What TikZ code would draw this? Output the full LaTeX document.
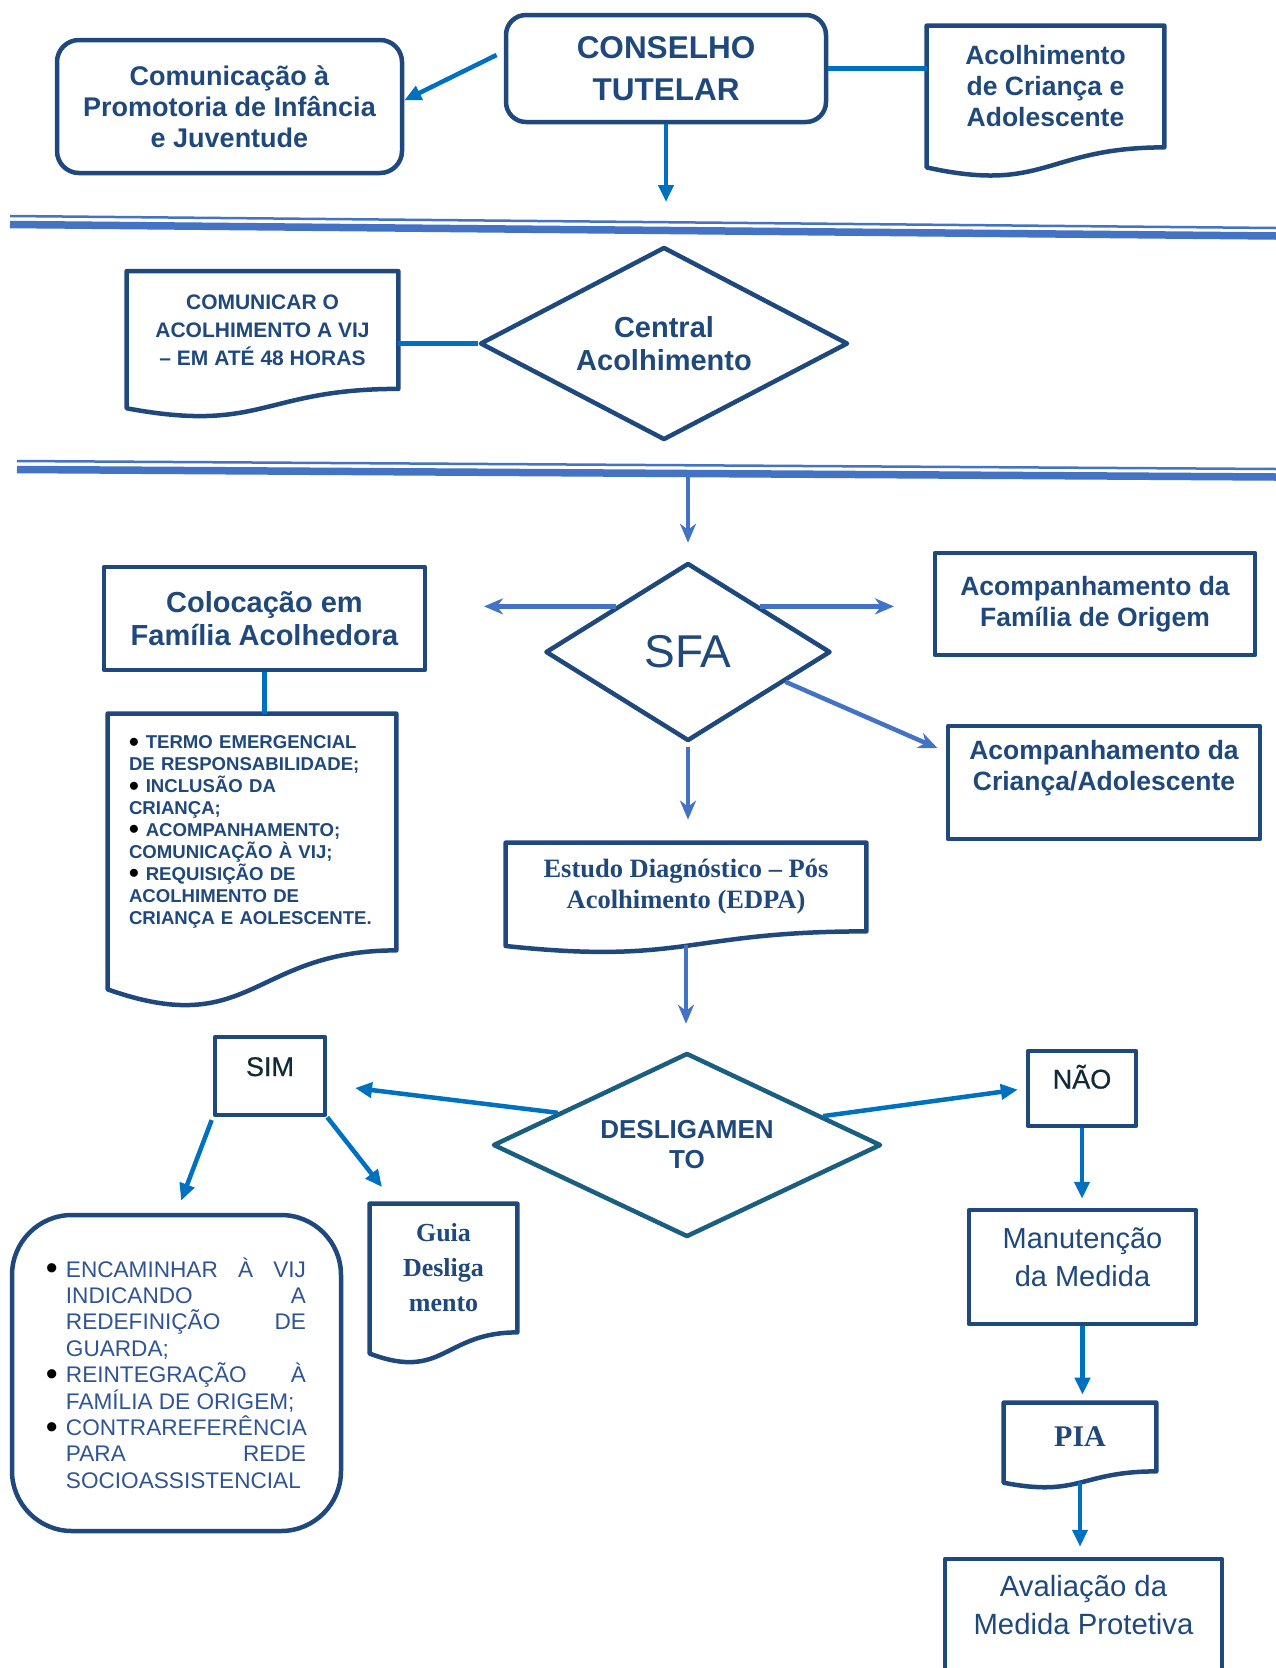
\documentclass[tikz,border=0pt]{standalone}
\usepackage{fontspec}
\setmainfont{Liberation Sans}
\newfontfamily\timesfont{Liberation Serif}
\newfontfamily\midfont[FakeBold=0.6]{Liberation Sans}
\usetikzlibrary{shapes.geometric,arrows.meta,calc}

\definecolor{navy}{RGB}{31,73,125}
\definecolor{arrowblue}{RGB}{0,112,192}
\definecolor{lightblue}{RGB}{68,114,196}
\definecolor{tealline}{RGB}{26,94,128}
\definecolor{listblue}{RGB}{47,84,150}
\definecolor{darkink}{RGB}{16,42,58}

\newcommand{\setsize}[2]{\fontsize{#1}{#2}\selectfont}
\newcommand{\itemdot}{\textcolor{black}{\raisebox{-0.12em}{\scalebox{1.5}{\textbullet}}}}

\tikzset{every picture/.style={line width=0.75pt}}
\tikzset{
  boxline/.style={draw=navy, line width=4.5pt, line join=round},
  plainbox/.style={boxline, rectangle, inner sep=0pt, text=navy, align=center},
  roundbox/.style={plainbox, rounded corners=20pt},
  docbox/.style={rectangle, inner sep=0pt, text=navy, align=center},
  decision/.style={boxline, diamond, inner sep=0pt, text=navy, align=center},
  link/.style={draw=arrowblue, line width=4.5pt},
  blueflow/.style={link, -{Triangle[length=17pt,width=15pt]}},
  sfaflow/.style={draw=lightblue, line width=4.5pt, -{Stealth[length=19pt,width=16pt,inset=6pt]}},
  septhin/.style={draw=lightblue, line width=2.5pt},
  septhick/.style={draw=lightblue, line width=7.5pt}
}

% document outline (wavy bottom) round a docbox node
\newcommand{\docoutline}[1]{%
  \draw[boxline] (#1.north west) -- (#1.north east) -- (#1.south east)
    .. controls (#1.south) and ($(#1.south)!-0.381!(#1.north)$) .. ($(#1.south west)!-0.1646!(#1.north west)$) -- cycle;}

\begin{document}
\begin{tikzpicture}[x=1pt,y=1pt,yscale=-1,xscale=1]
\useasboundingbox (0,0) rectangle (1276,1668);
\path[fill=white] (0,0) rectangle (1276,1668);

%Rounded Rect: Conselho Tutelar
\node[roundbox, minimum width=320pt, minimum height=107pt, font=\bfseries\setsize{31.5}{42}] (conselho) at (666,68.5) {CONSELHO\\TUTELAR};
%Rounded Rect: Comunicacao
\node[roundbox, rounded corners=22pt, minimum width=345pt, minimum height=133pt, font=\bfseries\setsize{27}{31}] (comunicacao) at (229.5,106.5) {Comunicação à\\Promotoria de Infância\\e Juventude};
%Shape: Document
\node[docbox, minimum width=237pt, minimum height=121pt, font=\bfseries\setsize{26.5}{31}] (acolhimento) at (1045.5,86.5) {Acolhimento\\de Criança e\\Adolescente};
\docoutline{acolhimento}

%Straight Lines: separator 1
\draw[septhin] (10,216) -- (1276,228);
\draw[septhick] (10,224.5) -- (1276,236);

%Shape: Diamond
\node[decision, minimum width=368pt, minimum height=193pt, aspect=1.9, font=\bfseries\setsize{29}{33}] (central) at (664,343.5) {Central\\Acolhimento};
%Shape: Document
\node[docbox, minimum width=271pt, minimum height=117pt, font=\bfseries\setsize{21}{28}] (comunicar) at (262.5,330) {COMUNICAR O\\ACOLHIMENTO A VIJ\\– EM ATÉ 48 HORAS};
\docoutline{comunicar}

%Straight Lines: separator 2
\draw[septhin] (17,461) -- (1276,469);
\draw[septhick] (17,469.5) -- (1276,477);

%Shape: Diamond
\node[decision, minimum width=285pt, minimum height=178pt, aspect=1.6, font=\setsize{46}{52}] (sfa) at (688,652) {SFA};
%Shape: Rectangle
\node[plainbox, minimum width=321pt, minimum height=103pt, font=\bfseries\setsize{29}{33}] (colocacao) at (264.5,618.5) {Colocação em\\Família Acolhedora};
%Shape: Document
\node[docbox, minimum width=288pt, minimum height=236pt, text width=246pt, align=left, font=\bfseries\setsize{18.6}{21.9}] (termo) at (252,832) {\itemdot\hspace{7pt}TERMO EMERGENCIAL\\
DE RESPONSABILIDADE;\\
\itemdot\hspace{7pt}INCLUSÃO DA\\
CRIANÇA;\\
\itemdot\hspace{7pt}ACOMPANHAMENTO;\\
COMUNICAÇÃO À VIJ;\\
\itemdot\hspace{7pt}REQUISIÇÃO DE\\
ACOLHIMENTO DE\\
CRIANÇA E AOLESCENTE.};
\docoutline{termo}
%Shape: Rectangle
\node[plainbox, minimum width=320pt, minimum height=102pt, font=\bfseries\setsize{26.5}{31}] (familia) at (1095,604) {Acompanhamento da\\Família de Origem};
%Shape: Rectangle
\node[plainbox, minimum width=312pt, minimum height=113pt] (crianca) at (1104,782.5) {};
% Text Node
\node[text=navy, align=center, inner sep=0pt, font=\bfseries\setsize{26.5}{31}] (criancatxt) at ([yshift=-14.5pt]crianca.center) {Acompanhamento da\\Criança/Adolescente};

%Shape: Document
\node[docbox, minimum width=360pt, minimum height=88pt, font=\timesfont\bfseries\setsize{26.5}{31}] (edpa) at (686,887) {Estudo Diagnóstico – Pós\\Acolhimento (EDPA)};
\docoutline{edpa}

%Shape: Diamond
\node[decision, draw=tealline, minimum width=388pt, minimum height=184pt, aspect=2.1, font=\bfseries\setsize{26}{30}] (desligamento) at (687,1145) {DESLIGAMEN\\TO};
%Shape: Rectangle
\node[plainbox, minimum width=110pt, minimum height=78pt, text=darkink, text height=19pt, text depth=19pt, font=\midfont\setsize{27}{32}] (sim) at (270,1076) {SIM};
\node[plainbox, minimum width=108pt, minimum height=75pt, text=darkink, text height=19pt, text depth=19pt, font=\midfont\setsize{27}{32}] (nao) at (1082,1088.5) {NÃO};
%Rounded Rect: list
\node[roundbox, rounded corners=60pt, minimum width=329pt, minimum height=316pt, text=listblue, align=left, font=\setsize{22.6}{26.4}] (encaminhar) at (176.5,1373) {%
\makebox[20pt][l]{\itemdot}\hbox to 240pt{ENCAMINHAR\hfill À\hfill VIJ}\\
\hspace*{20pt}\hbox to 240pt{INDICANDO\hfill A}\\
\hspace*{20pt}\hbox to 240pt{REDEFINIÇÃO\hfill DE}\\
\hspace*{20pt}GUARDA;\\
\makebox[20pt][l]{\itemdot}\hbox to 240pt{REINTEGRAÇÃO\hfill À}\\
\hspace*{20pt}FAMÍLIA DE ORIGEM;\\
\makebox[20pt][l]{\itemdot}CONTRAREFERÊNCIA\\
\hspace*{20pt}\hbox to 240pt{PARA\hfill REDE}\\
\hspace*{20pt}SOCIOASSISTENCIAL};
%Shape: Document
\node[docbox, minimum width=147pt, minimum height=128pt, font=\timesfont\bfseries\setsize{26}{35}] (guia) at (443.5,1268) {Guia\\Desliga\\mento};
\docoutline{guia}
%Shape: Rectangle
\node[plainbox, minimum width=227pt, minimum height=114pt] (manutencao) at (1082.5,1267) {};
% Text Node
\node[text=navy, align=center, inner sep=0pt, font=\setsize{29}{38}] (manutencaotxt) at ([yshift=-10pt]manutencao.center) {Manutenção\\da Medida};
%Shape: Document
\node[docbox, minimum width=152pt, minimum height=68pt, font=\timesfont\bfseries\setsize{30}{36}] (pia) at (1080,1437) {PIA};
\docoutline{pia}
%Shape: Rectangle
\node[plainbox, minimum width=277pt, minimum height=161pt] (avaliacao) at (1083.5,1639.5) {};
% Text Node
\node[text=navy, align=center, inner sep=0pt, anchor=north, font=\setsize{29.3}{38}] (avaliacaotxt) at ([yshift=18pt]avaliacao.north) {Avaliação da\\Medida Protetiva};

%Connectors: top
\coordinate (ctend) at (666,202);
\draw[blueflow, shorten <=8pt] (conselho.174) -- (comunicacao.2);
\draw[blueflow] (conselho.south) -- (ctend);
\draw[link] (conselho.east) -- (conselho.east -| acolhimento.west);
\draw[link] (comunicar.east |- central.west) -- (central.west);

%Connectors: SFA
\coordinate (sfain) at (688,476);
\coordinate (sfaleft) at (484,604);
\coordinate (sfaright) at (894,604);
\draw[sfaflow, shorten >=18pt] (sfain) -- (sfa.north);
\draw[sfaflow] (sfa.north west) -- (sfa.north west -| sfaleft);
\draw[sfaflow] (sfa.north east) -- (sfa.north east -| sfaright);
\draw[sfaflow, shorten >=9pt] (sfa.-17) -- (crianca.169);
\draw[sfaflow, shorten <=4pt, shorten >=23pt] (sfa.south) -- (sfa.south |- edpa.north);
\draw[link] (colocacao.south) -- (colocacao.south |- termo.north);
\draw[sfaflow, shorten <=14pt, shorten >=27pt] (edpa.south) -- (edpa.south |- desligamento.north);

%Connectors: desligamento
\coordinate (simtip) at (355,1088);
\coordinate (guiatip) at (382,1187);
\draw[blueflow] (desligamento.166) -- (simtip);
\draw[blueflow, shorten >=8pt] (desligamento.12) -- (nao.west);
\draw[blueflow, shorten <=3pt, shorten >=13pt] (sim.south west) -- (encaminhar.north);
\draw[blueflow] (sim.south east) -- (guiatip);
\draw[blueflow, shorten >=9pt] (nao.south) -- (nao.south |- manutencao.north);
\draw[blueflow, shorten >=8pt] (manutencao.south) -- (manutencao.south |- pia.north);
\draw[blueflow, shorten <=11pt, shorten >=10pt] (pia.south) -- (pia.south |- avaliacao.north);

\end{tikzpicture}
\end{document}
